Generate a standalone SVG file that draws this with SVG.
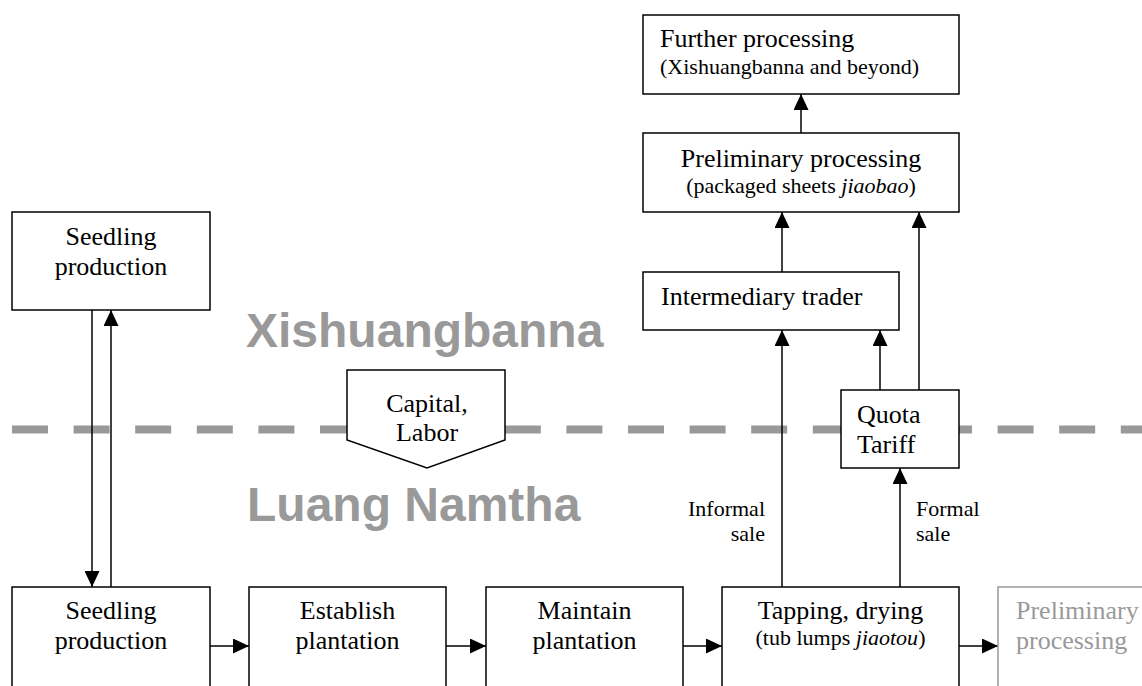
<svg xmlns="http://www.w3.org/2000/svg" width="1142" height="686" viewBox="0 0 1142 686">
<style>
.box{fill:#fff;stroke:#000;stroke-width:1.5}
.gbox{fill:#fff;stroke:#999;stroke-width:1.5}
.t{font-family:"Liberation Serif","Times New Roman",serif;font-size:26px;fill:#000}
.s{font-family:"Liberation Serif","Times New Roman",serif;font-size:22px;fill:#000}
.c{text-anchor:middle}
.g{fill:#999}
.region{font-family:"Liberation Sans",Arial,sans-serif;font-weight:bold;font-size:48px;fill:#999}
.conn{stroke:#000;stroke-width:1.5;fill:none;marker-end:url(#ah)}
</style>
<defs>
<marker id="ah" markerUnits="userSpaceOnUse" markerWidth="16" markerHeight="15" refX="16" refY="7.5" orient="auto">
<path d="M0,0 L16,7.5 L0,15 z" fill="#000"/>
</marker>
</defs>
<rect width="1142" height="686" fill="#fff"/>
<g id="labels">
<text class="region" x="246" y="347">Xishuangbanna</text>
<text class="region" x="247" y="521">Luang Namtha</text>
</g>
<line id="border" x1="12" y1="429.5" x2="1142" y2="429.5" stroke="#999" stroke-width="8" stroke-dasharray="36 25.6"/>
<g id="connectors">
<line class="conn" x1="92" y1="310" x2="92" y2="587"/>
<line class="conn" x1="111" y1="587" x2="111" y2="310"/>
<line class="conn" x1="210" y1="646" x2="249" y2="646"/>
<line class="conn" x1="446" y1="646" x2="486" y2="646"/>
<line class="conn" x1="683" y1="646" x2="722" y2="646"/>
<line class="conn" x1="959" y1="646" x2="998" y2="646"/>
<line class="conn" x1="782" y1="587" x2="782" y2="330"/>
<line class="conn" x1="900" y1="587" x2="900" y2="468"/>
<line class="conn" x1="880" y1="390" x2="880" y2="330"/>
<line class="conn" x1="919" y1="390" x2="919" y2="212"/>
<line class="conn" x1="782" y1="272" x2="782" y2="212"/>
<line class="conn" x1="801" y1="133" x2="801" y2="94"/>
</g>
<g id="seedling-xsbn">
<rect class="box" x="12" y="212" width="198" height="98"/>
<text class="t c" x="111" y="245">Seedling</text>
<text class="t c" x="111" y="275">production</text>
</g>
<g id="further-processing">
<rect class="box" x="643" y="15" width="316" height="79"/>
<text class="t" x="660" y="47">Further processing</text>
<text class="s" x="660" y="74">(Xishuangbanna and beyond)</text>
</g>
<g id="preliminary-xsbn">
<rect class="box" x="643" y="133" width="316" height="79"/>
<text class="t c" x="801" y="167">Preliminary processing</text>
<text class="s c" x="801" y="193">(packaged sheets <tspan font-style="italic">jiaobao</tspan>)</text>
</g>
<g id="intermediary">
<rect class="box" x="643" y="272" width="256" height="58"/>
<text class="t" x="661" y="305">Intermediary trader</text>
</g>
<g id="quota">
<rect class="box" x="841" y="390" width="118" height="78"/>
<text class="t" x="857" y="423">Quota</text>
<text class="t" x="857" y="453">Tariff</text>
</g>
<g id="capital-labor">
<path class="box" d="M347,370 L505,370 L505,440 L427,468 L347,440 Z"/>
<text class="t c" x="427" y="412">Capital,</text>
<text class="t c" x="427" y="441">Labor</text>
</g>
<g id="sale-labels">
<text class="s" x="765" y="516" text-anchor="end">Informal</text>
<text class="s" x="765" y="541" text-anchor="end">sale</text>
<text class="s" x="916" y="516">Formal</text>
<text class="s" x="916" y="541">sale</text>
</g>
<g id="seedling-ln">
<rect class="box" x="12" y="587" width="198" height="120"/>
<text class="t c" x="111" y="619">Seedling</text>
<text class="t c" x="111" y="649">production</text>
</g>
<g id="establish">
<rect class="box" x="249" y="587" width="197" height="120"/>
<text class="t c" x="347.5" y="619">Establish</text>
<text class="t c" x="347.5" y="649">plantation</text>
</g>
<g id="maintain">
<rect class="box" x="486" y="587" width="197" height="120"/>
<text class="t c" x="584.5" y="619">Maintain</text>
<text class="t c" x="584.5" y="649">plantation</text>
</g>
<g id="tapping">
<rect class="box" x="722" y="587" width="237" height="120"/>
<text class="t c" x="840.5" y="619">Tapping, drying</text>
<text class="s c" x="840.5" y="645">(tub lumps <tspan font-style="italic">jiaotou</tspan>)</text>
</g>
<g id="preliminary-ln">
<rect class="gbox" x="998" y="587" width="160" height="120"/>
<text class="t g" x="1016" y="619">Preliminary</text>
<text class="t g" x="1016" y="649">processing</text>
</g>
</svg>
